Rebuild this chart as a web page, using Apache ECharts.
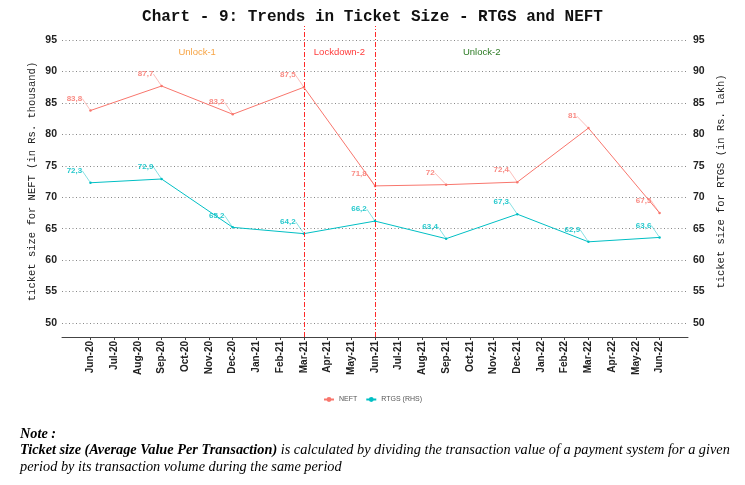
<!DOCTYPE html>
<html>
<head>
<meta charset="utf-8">
<script src="https://cdn.jsdelivr.net/npm/echarts@6/dist/echarts.min.js"></script>
<style>
html,body{margin:0;padding:0;background:#fff;}
#c{width:745px;height:485px;}
</style>
</head>
<body>
<div id="c"></div>
<script>
// ---- data ----
const months = ['Jun-20','Jul-20','Aug-20','Sep-20','Oct-20','Nov-20','Dec-20','Jan-21','Feb-21','Mar-21','Apr-21','May-21','Jun-21','Jul-21','Aug-21','Sep-21','Oct-21','Nov-21','Dec-21','Jan-22','Feb-22','Mar-22','Apr-22','May-22','Jun-22'];
const periods = ['Jun-20','Sep-20','Dec-20','Mar-21','Jun-21','Sep-21','Dec-21','Mar-22','Jun-22'];
const neft = [83.8, 87.7, 83.2, 87.5, 71.8, 72.0, 72.4, 81.0, 67.5];
const rtgs = [72.3, 72.9, 65.2, 64.2, 66.2, 63.4, 67.3, 62.9, 63.6];
const yTicks = [50, 55, 60, 65, 70, 75, 80, 85, 90, 95];
const phaseLines = ['Mar-21', 'Jun-21'];
const phaseNames = ['Unlock-1', 'Lockdown-2', 'Unlock-2'];
const phaseBounds = [['Jun-20','Mar-21'], ['Mar-21','Jun-21'], ['Jun-21','Mar-22']];

const phaseColors = ['#F7A444', '#FF3B3B', '#2A7A22'];
const RED = '#F8766D', CYAN = '#00BFC4';
const mIdx = m => months.indexOf(m);
const fmt = v => String(v).replace('.', ',');

const chart = echarts.init(document.getElementById('c'), null, {renderer: 'canvas'});

function labelCfg(color) {
  return {
    show: true, position: 'inside', color: color, fontSize: 8, fontWeight: 'bold',
    fontFamily: 'Arial, Liberation Sans, sans-serif', opacity: 0.85,
    formatter: p => fmt(p.value[1])
  };
}

const yAxisCommon = {
  type: 'value', min: 47.75, max: 97.25,
  axisLine: {show: false},
  axisTick: {show: false, customValues: yTicks},
  axisLabel: {customValues: yTicks, color: '#222', fontSize: 10.5, fontWeight: 'bold',
    fontFamily: 'Arial, Liberation Sans, sans-serif', margin: 5},
  splitLine: {show: true, lineStyle: {color: '#888', type: [1, 2.5], width: 1}},
  nameLocation: 'middle',
  nameTextStyle: {fontFamily: 'Liberation Mono, Courier New, monospace', fontSize: 10.5, color: '#222'}
};

const option = {
  animation: false,
  title: {
    text: 'Chart - 9: Trends in Ticket Size - RTGS and NEFT',
    left: 'center', top: 4,
    textStyle: {fontFamily: 'Liberation Mono, Courier New, monospace', fontWeight: 'bold', fontSize: 16, color: '#111'}
  },
  legend: {
    bottom: 77, left: 'center', itemGap: 8, itemWidth: 10, itemHeight: 6,
    textStyle: {fontSize: 7, color: '#555', fontFamily: 'Arial, Liberation Sans, sans-serif'},
    data: ['NEFT', 'RTGS (RHS)']
  },
  grid: {left: 62, right: 57, top: 26, bottom: 148},
  xAxis: {
    type: 'value', min: -1.2, max: months.length - 1 + 1.2,
    axisLine: {show: true, lineStyle: {color: '#444', width: 1}},
    axisTick: {show: true, customValues: months.map((m, i) => i), length: 3, lineStyle: {color: '#444'}},
    axisLabel: {customValues: months.map((m, i) => i), formatter: v => months[Math.round(v)] || '',
      rotate: 90, color: '#222', fontSize: 10, fontWeight: 'bold',
      fontFamily: 'Arial, Liberation Sans, sans-serif', margin: 4},
    splitLine: {show: false}
  },
  yAxis: [
    Object.assign({}, yAxisCommon, {position: 'left', name: 'ticket size for NEFT (in Rs. thousand)', nameGap: 24,
      nameMoveOverlap: false}),
    Object.assign({}, yAxisCommon, {position: 'right', name: 'ticket size for RTGS (in Rs. lakh)', nameGap: 28,
      splitLine: {show: false}})
  ],
  series: [
    {
      name: 'NEFT', type: 'line', yAxisIndex: 0,
      data: periods.map((p, i) => [mIdx(p), neft[i]]),
      symbol: 'circle', symbolSize: 2.5,
      itemStyle: {color: RED}, lineStyle: {color: RED, width: 1},
      label: labelCfg(RED),
      labelLayout: {dx: -16, dy: -12},
      labelLine: {show: true, lineStyle: {color: RED, width: 0.6, opacity: 0.8}},
      markLine: {
        silent: true, symbol: 'none',
        label: {show: false},
        lineStyle: {color: '#FF2A2A', type: [5, 2, 1, 2], width: 1},
        data: phaseLines.map(m => ({xAxis: mIdx(m)}))
      },
      markPoint: {
        silent: true, symbol: 'circle', symbolSize: 0,
        data: phaseNames.map((n, i) => ({
          name: n,
          coord: [(mIdx(phaseBounds[i][0]) + mIdx(phaseBounds[i][1])) / 2, 93.0],
          label: {show: true, position: 'inside', formatter: n, color: phaseColors[i], fontSize: 9.5,
            fontFamily: 'Arial, Liberation Sans, sans-serif'}
        }))
      }
    },
    {
      name: 'RTGS (RHS)', type: 'line', yAxisIndex: 1,
      data: periods.map((p, i) => [mIdx(p), rtgs[i]]),
      symbol: 'circle', symbolSize: 2.5,
      itemStyle: {color: CYAN}, lineStyle: {color: CYAN, width: 1},
      label: labelCfg(CYAN),
      labelLayout: {dx: -16, dy: -12},
      labelLine: {show: true, lineStyle: {color: CYAN, width: 0.6, opacity: 0.8}}
    }
  ],
  graphic: [
    {
      type: 'text', left: 20, top: 427,
      style: {
        text: '{h|Note :}\n{b|Ticket size (Average Value Per Transaction)}{n| is calculated by dividing the transaction value of a payment system for a given}\n{n|period by its transaction volume during the same period}',
        rich: {
          h: {fontFamily: 'Liberation Serif, DejaVu Serif, serif', fontStyle: 'italic', fontWeight: 'bold', fontSize: 14.3, lineHeight: 16.5, fill: '#000'},
          b: {fontFamily: 'Liberation Serif, DejaVu Serif, serif', fontStyle: 'italic', fontWeight: 'bold', fontSize: 14.3, lineHeight: 16.5, fill: '#000'},
          n: {fontFamily: 'Liberation Serif, DejaVu Serif, serif', fontStyle: 'italic', fontSize: 14.3, lineHeight: 16.5, fill: '#000'}
        }
      }
    }
  ]
};
chart.setOption(option);
</script>
</body>
</html>
